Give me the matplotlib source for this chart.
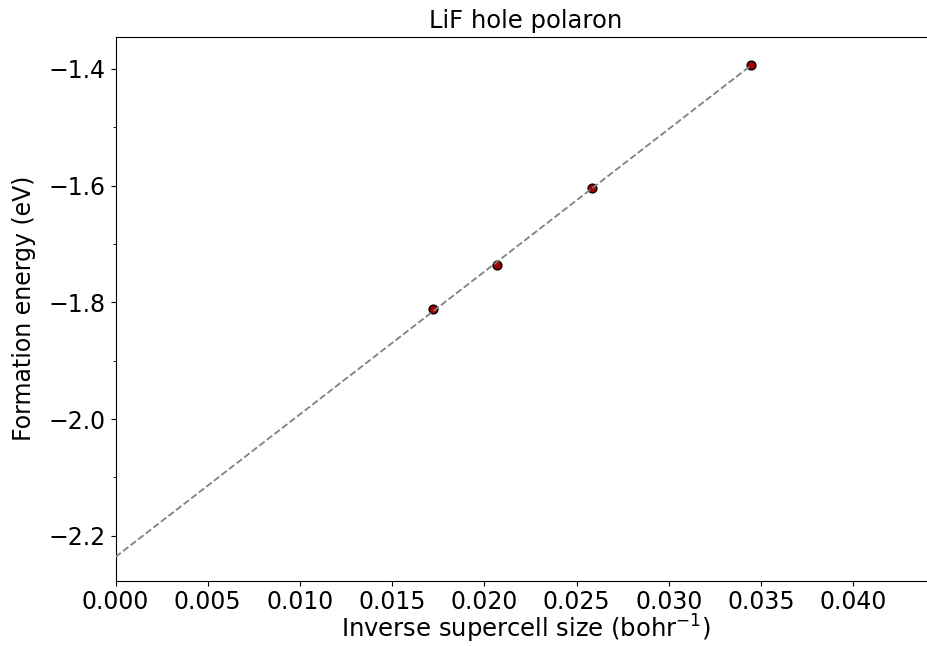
import matplotlib
matplotlib.use("Agg")
import matplotlib.pyplot as plt
import numpy as np
from matplotlib.ticker import MultipleLocator

inv_size = np.array([0.01723, 0.0207, 0.02585, 0.03448])
energy = np.array([-1.811, -1.7357, -1.6036, -1.3926])

slope, intercept = np.polyfit(inv_size, energy, 1)
x_fit = np.array([0.0, inv_size.max()])
y_fit = slope * x_fit + intercept

fig = plt.figure(figsize=(9.27, 6.46), dpi=100)
ax = fig.add_axes([0.1246, 0.101, 0.8754 + 0.01, 0.842])

ax.scatter(inv_size, energy,
           c="#a00000",
           edgecolors="black",
           s=40,
           zorder=2)
ax.plot(x_fit, y_fit,
        color="gray",
        ls="--",
        lw=1.3,
        zorder=3)

ax.set_xlim(0, 0.0445)
ax.set_ylim(-2.277, -1.345)
ax.yaxis.set_major_locator(MultipleLocator(0.2))
ax.yaxis.set_minor_locator(MultipleLocator(0.1))
ax.xaxis.set_major_locator(MultipleLocator(0.005))
ax.tick_params(labelsize=17)
ax.spines["right"].set_visible(False)

ax.set_title("LiF hole polaron", fontsize=17.5)
ax.set_xlabel("Inverse supercell size (bohr$^{-1}$)", fontsize=17.5, labelpad=-1)
ax.set_ylabel("Formation energy (eV)", fontsize=17, labelpad=9)

fig.savefig("out.png", dpi=100)
